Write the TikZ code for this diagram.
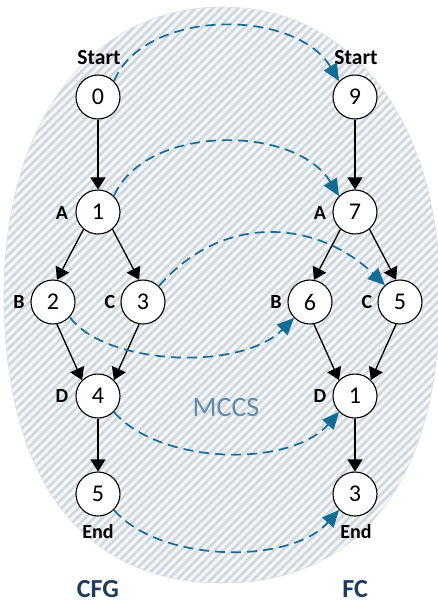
\documentclass[tikz,border=0pt]{standalone}
\usepackage{fontspec}
\setmainfont{Carlito}
\usetikzlibrary{arrows.meta}
\definecolor{hatchbg}{RGB}{246,247,249}
\definecolor{hatchfg}{RGB}{208,215,222}
\definecolor{mapblue}{RGB}{18,108,150}
\definecolor{mccsblue}{RGB}{96,140,170}
\definecolor{titleblue}{RGB}{30,58,92}
\begin{document}
\begin{tikzpicture}[x=1pt,y=-1pt,
  vertex/.style={circle,draw,line width=1.1pt,fill=white,minimum size=44pt,inner sep=0pt,
    font=\fontsize{24}{28}\selectfont},
  tag/.style={font=\bfseries\fontsize{20}{24}\selectfont,inner sep=0pt},
  bigtag/.style={font=\bfseries\fontsize{21.5}{25}\selectfont,inner sep=0pt},
  graphname/.style={font=\bfseries\fontsize{26}{30}\selectfont,text=titleblue,inner sep=0pt},
  flow/.style={line width=1.3pt,-{Triangle[length=12pt,width=15pt]}},
  map/.style={mapblue,line width=1.7pt,dash pattern=on 10pt off 6pt,
    -{Triangle[length=17pt,width=15pt]}}
]
\useasboundingbox (0,0) rectangle (438,603);

% outline of the hatched region holding both graphs
\def\region{(222,7) .. controls (353,7) and (440,122) .. (440,295)
  .. controls (440,479) and (361.5,583) .. (222,583)
  .. controls (82.5,583) and (4,479) .. (4,295)
  .. controls (4,122) and (91,7) .. cycle}
\begin{scope}
  \clip \region;
  \fill[hatchbg] (0,0) rectangle (438,603);
  \foreach \k in {-620,-611.5,...,450}
    \draw[hatchfg,line width=2.8pt] (\k,603) -- ++(620,-620);
\end{scope}
\draw[gray!25,line width=0.6pt] \region;

% CFG
\node[vertex] (c0) at (98,97) {0};
\node[vertex] (c1) at (98,212) {1};
\node[vertex] (c2) at (53,302) {2};
\node[vertex] (c3) at (143,302) {3};
\node[vertex] (c4) at (98,396) {4};
\node[vertex] (c5) at (98,494) {5};

% FC
\node[vertex] (f9) at (355,97) {9};
\node[vertex] (f7) at (355,212) {7};
\node[vertex] (f6) at (310,302) {6};
\node[vertex] (f5) at (400,302) {5};
\node[vertex] (f1) at (355,396) {1};
\node[vertex] (f3) at (355,494) {3};

% node tags
\node[bigtag] (cstart) at (99,58) {Start};
\node[tag] (ca) at (62,213) {A};
\node[tag] (cb) at (19,302) {B};
\node[tag] (cc) at (110,302) {C};
\node[tag] (cd) at (62,396) {D};
\node[tag] (cend) at (98,532) {End};
\node[bigtag] (fstart) at (356,58) {Start};
\node[tag] (fa) at (320,213) {A};
\node[tag] (fb) at (276,302) {B};
\node[tag] (fc) at (367,302) {C};
\node[tag] (fd) at (320,396) {D};
\node[tag] (fend) at (356,532) {End};

\node[graphname] (cfgname) at (98,589) {CFG};
\node[graphname] (fcname) at (355,589) {FC};
\node[font=\fontsize{28}{32}\selectfont,text=mccsblue,inner sep=0pt] (mccs) at (226,408) {MCCS};

% control flow edges
\draw[flow] (c0) -- (c1);
\draw[flow] (c1.-130) -- (c2.80);
\draw[flow] (c1.-50) -- (c3.100);
\draw[flow] (c2.-80) -- (c4.135);
\draw[flow] (c3.-100) -- (c4.45);
\draw[flow] (c4) -- (c5);

\draw[flow] (f9) -- (f7);
\draw[flow] (f7.-130) -- (f6.80);
\draw[flow] (f7.-50) -- (f5.100);
\draw[flow] (f6.-80) -- (f1.135);
\draw[flow] (f5.-100) -- (f1.45);
\draw[flow] (f1) -- (f3);

% common subgraph mapping
\draw[map] (c0.45) .. controls (145,8) and (295,8) .. (f9.135);
\draw[map] (c1.45) .. controls (145,124) and (295,124) .. (f7.135);
\draw[map] (c3.45) .. controls (225,210) and (320,222) .. (f5.132);
\draw[map] (c2.-42) .. controls (105,365) and (240,372) .. (f6.-135);
\draw[map] (c4.-45) .. controls (160,465) and (290,468) .. (f1.-135);
\draw[map] (c5.-45) .. controls (160,563) and (290,565) .. (f3.-135);
\end{tikzpicture}
\end{document}
